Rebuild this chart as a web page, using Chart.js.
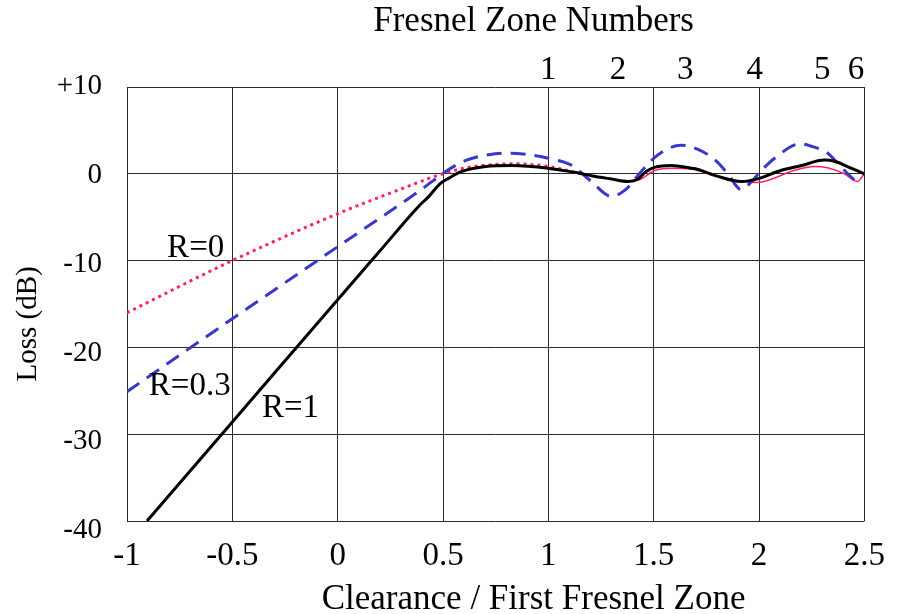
<!DOCTYPE html>
<html>
<head>
<meta charset="utf-8">
<script src="https://cdn.jsdelivr.net/npm/chart.js@4.4.1/dist/chart.umd.min.js"></script>
<style>
html,body{margin:0;padding:0;background:#fff;}
#c{display:block;}
</style>
</head>
<body>
<canvas id="c" width="904" height="614"></canvas>
<script>
// ---- data ----
const clearanceR1 = [-0.905,-0.5,0,0.2,0.386,0.433,0.488,0.528,0.59,0.703,0.826,1.0,1.048,1.142,1.204,1.299,1.379,1.426,1.464,1.507,1.582,1.677,1.71,1.805,1.914,1.994,2.103,2.197,2.311,2.358,2.42,2.5];
const lossR1      = [-40,-28.6,-14.5,-8.9,-3.7,-2.6,-1.1,-0.5,0.27,0.85,0.96,0.65,0.46,0.1,-0.23,-0.6,-0.88,-0.6,0.27,0.77,0.96,0.65,0.5,-0.3,-0.88,-0.58,0.38,0.92,1.58,1.45,0.84,0];

const clearanceR03 = [-1,-0.5,0,0.386,0.447,0.513,0.608,0.717,0.811,0.906,1.015,1.109,1.2,1.299,1.365,1.441,1.521,1.63,1.71,1.791,1.852,1.914,1.961,2.008,2.074,2.197,2.245,2.325,2.387,2.453,2.48];
const lossR03      = [-25.1,-16.7,-8.4,-2.0,-0.9,0.27,1.54,2.2,2.38,2.2,1.7,1.0,-0.8,-2.6,-1.85,0.27,2.2,3.3,2.8,1.6,0,-1.8,-1.0,0.3,1.8,3.45,3.2,2.4,0.85,-0.7,-1.0];

const clearanceR0 = [-1,-0.5,0,0.386,0.447,0.513,0.589,0.703,0.845,1.0,1.109,1.2,1.299,1.365,1.43,1.507,1.582,1.677,1.791,1.914,1.994,2.055,2.169,2.263,2.325,2.405,2.467,2.5];
const lossR0      = [-16.0,-10.0,-4.6,-0.96,-0.4,0.1,0.6,1.0,1.15,0.85,0.27,-0.2,-0.6,-0.88,-0.7,0.4,0.65,0.55,-0.2,-0.85,-1.0,-0.65,0.4,0.84,0.7,0,-0.88,0];

const xTickValues = [-1,-0.5,0,0.5,1,1.5,2,2.5];
const yTickValues = [10,0,-10,-20,-30,-40];
const zoneNumbers = ['1','2','3','4','5','6'];
const zoneClearance = [1.0,1.33,1.65,1.98,2.30,2.46];

const curveLabels = ['R=0','R=0.3','R=1'];
const curveLabelX = [-0.674,-0.702,-0.224];
const curveLabelY = [-8.6,-24.5,-27.0];

const xTitle = 'Clearance / First Fresnel Zone';
const zoneTitle = 'Fresnel Zone Numbers';
const yTitle = 'Loss (dB)';

// ---- build ----
const toPts = (xs, ys) => xs.map((x, i) => ({x: x, y: ys[i]}));
const FONT = '"Liberation Serif", "Times New Roman", serif';
Chart.defaults.font.family = FONT;
Chart.defaults.color = '#000';

const textPlugin = {
  id: 'freeTexts',
  afterDraw(chart) {
    const ctx = chart.ctx;
    const xs = chart.scales.x, ys = chart.scales.y;
    ctx.save();
    ctx.fillStyle = '#000';
    ctx.textAlign = 'center';
    ctx.textBaseline = 'middle';
    ctx.font = '33px ' + FONT;
    curveLabels.forEach((t, i) => {
      ctx.fillText(t, xs.getPixelForValue(curveLabelX[i]), ys.getPixelForValue(curveLabelY[i]));
    });
    ctx.font = '35px ' + FONT;
    const cx = xs.getPixelForValue(0.93);
    ctx.fillText(xTitle, cx, 600);
    ctx.fillText(zoneTitle, cx, 22);
    ctx.translate(28, ys.getPixelForValue(-17.3));
    ctx.rotate(-Math.PI / 2);
    ctx.font = '29px ' + FONT;
    ctx.fillText(yTitle, 0, 0);
    ctx.restore();
  }
};

const gridColor = '#2b2b2b';

new Chart(document.getElementById('c'), {
  type: 'line',
  data: {
    datasets: [
      {
        label: 'R=1',
        data: toPts(clearanceR1, lossR1),
        borderColor: '#000000',
        borderWidth: 3,
        pointRadius: 0,
        cubicInterpolationMode: 'monotone',
        fill: false
      },
      {
        label: 'R=0.3',
        data: toPts(clearanceR03, lossR03),
        borderColor: '#3838cc',
        borderWidth: 3,
        borderDash: [15, 9],
        pointRadius: 0,
        cubicInterpolationMode: 'monotone',
        fill: false
      },
      {
        label: 'R=0',
        data: toPts(clearanceR0, lossR0),
        borderColor: '#ff1f6b',
        borderWidth: 1.5,
        borderDash: [],
        pointRadius: 0,
        cubicInterpolationMode: 'monotone',
        fill: false,
        segment: {
          borderDash: c => c.p0.parsed.x < 1.2 ? [3, 4] : undefined,
          borderWidth: c => c.p0.parsed.x < 1.2 ? 3 : undefined
        }
      }
    ]
  },
  options: {
    responsive: false,
    devicePixelRatio: 1,
    animation: false,
    layout: {padding: {left: 0, right: 37, top: 0, bottom: 0}},
    plugins: {legend: {display: false}, tooltip: {enabled: false}},
    scales: {
      x: {
        type: 'linear', position: 'bottom', min: -1, max: 2.5,
        afterBuildTicks: s => { s.ticks = xTickValues.map(v => ({value: v})); },
        ticks: {autoSkip: false, maxRotation: 0, padding: 19, color: '#000',
                font: {size: 33, lineHeight: 1}, callback: v => String(v)},
        grid: {color: gridColor, lineWidth: 1, drawTicks: false},
        border: {display: false},
        afterFit: s => { s.height = 93; }
      },
      xTop: {
        type: 'linear', position: 'top', min: -1, max: 2.5,
        afterBuildTicks: s => { s.ticks = zoneClearance.map(v => ({value: v})); },
        ticks: {autoSkip: false, maxRotation: 0, padding: 0, color: '#000',
                font: {size: 33, lineHeight: 1}, callback: (v, i) => zoneNumbers[i]},
        grid: {display: false, drawTicks: false},
        border: {display: false},
        afterFit: s => { s.height = 87; }
      },
      y: {
        type: 'linear', position: 'left', weight: 0, min: -40, max: 10,
        afterBuildTicks: s => { s.ticks = yTickValues.map(v => ({value: v})); },
        ticks: {display: false},
        grid: {color: gridColor, lineWidth: 1, drawTicks: false},
        border: {display: false},
        afterFit: s => { s.width = 0; }
      },
      yLabels: {
        type: 'linear', position: 'left', weight: 1, min: -38.92, max: 9.94,
        afterBuildTicks: s => { s.ticks = yTickValues.map(v => ({value: v})); },
        ticks: {autoSkip: false, padding: 25, color: '#000',
                font: {size: 29, lineHeight: 1}, callback: v => v > 0 ? '+' + v : String(v)},
        grid: {display: false, drawTicks: false},
        border: {display: false},
        afterFit: s => { s.width = 127; }
      }
    }
  },
  plugins: [textPlugin]
});
</script>
</body>
</html>
